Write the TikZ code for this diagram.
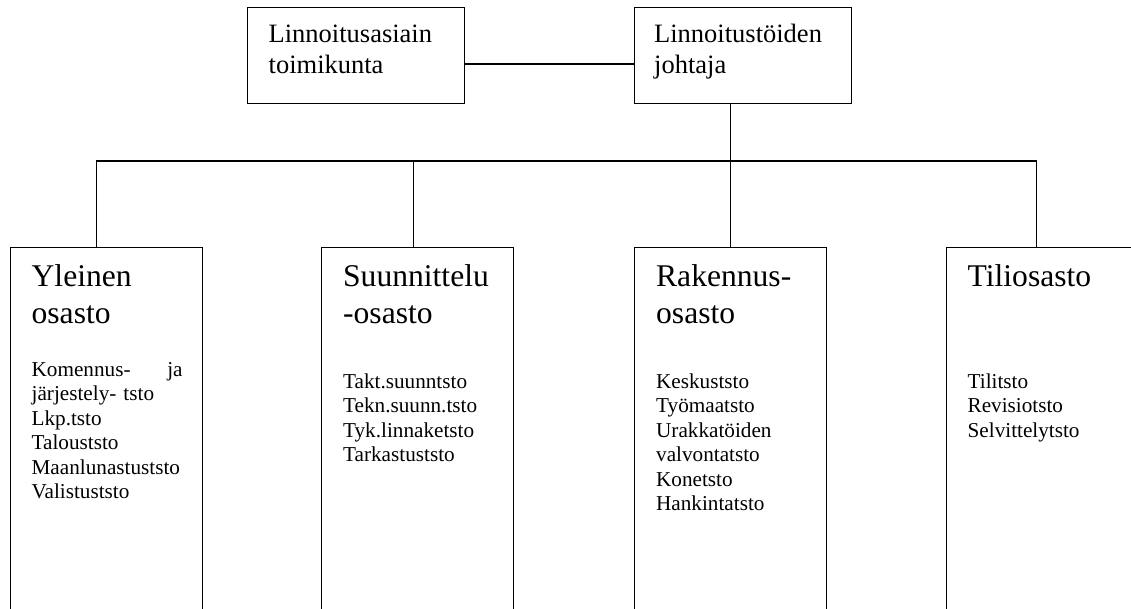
\documentclass[tikz,border=0pt]{standalone}
\usepackage{fontspec}
\setmainfont{Liberation Serif}
\usetikzlibrary{positioning}
\tikzset{
    box/.style = {
        draw,
        line width=1.3pt,
        inner sep=0pt,
        },
    top box/.style = {
        box,
        minimum width=217pt,
        minimum height=96pt,
        },
    dept/.style = {
        box,
        minimum width=192pt,
        minimum height=420pt,
        },
    head/.style = {
        anchor=base west,
        inner sep=0pt,
        text width=190pt,
        font=\fontsize{26.5}{30.5}\selectfont,
        },
    title/.style = {
        anchor=base west,
        inner sep=0pt,
        text width=170pt,
        font=\fontsize{31.6}{37}\selectfont,
        },
    units/.style = {
        anchor=base west,
        inner sep=0pt,
        text width=165pt,
        font=\fontsize{21.2}{24.5}\selectfont,
        },
}

\begin{document}
\begin{tikzpicture}[x=1pt, y=1pt, line width=1.3pt]
            \useasboundingbox (0,0) rectangle (1131,-609);
            \clip (0,0) rectangle (1131,-609);

            % top level
            \node[top box, anchor=north west] (lta) at (247,-7) {};
            \node[top box, right=168.7pt of lta] (ltj) {};
            \node[head] (lta-t) at ([xshift=21pt, yshift=-35.7pt]lta.north west) {Linnoitusasiain\\toimikunta};
            \node[head] (ltj-t) at ([xshift=19.5pt, yshift=-35.7pt]ltj.north west) {Linnoitustöiden\\johtaja};

            % departments
            \node[dept, anchor=north west] (yle) at (10,-247) {};
            \node[dept, right=117.7pt of yle] (suu) {};
            \node[dept, right=119.7pt of suu] (rak) {};
            \node[dept, right=118.7pt of rak] (til) {};

            \node[title] (yle-t) at ([xshift=21pt, yshift=-40pt]yle.north west) {Yleinen\\osasto};
            \node[title] (suu-t) at ([xshift=21.5pt, yshift=-40pt]suu.north west) {Suunnittelu\\-osasto};
            \node[title] (rak-t) at ([xshift=21.5pt, yshift=-40pt]rak.north west) {Rakennus-\\osasto};
            \node[title] (til-t) at ([xshift=21pt, yshift=-40pt]til.north west) {Tiliosasto};

            \node[units, text width=151pt] (yle-u) at ([xshift=21pt, yshift=-129pt]yle.north west)
                {Komennus-\hfill ja\\järjestely- tsto\\Lkp.tsto\\Talouststo\\Maanlunastuststo\\Valistuststo};
            \node[units] (suu-u) at ([xshift=21.5pt, yshift=-141pt]suu.north west)
                {Takt.suunntsto\\Tekn.suunn.tsto\\Tyk.linnaketsto\\Tarkastuststo};
            \node[units] (rak-u) at ([xshift=21.5pt, yshift=-141pt]rak.north west)
                {Keskuststo\\Työmaatsto\\Urakkatöiden\\valvontatsto\\Konetsto\\Hankintatsto};
            \node[units] (til-u) at ([xshift=21pt, yshift=-141pt]til.north west)
                {Tilitsto\\Revisiotsto\\Selvittelytsto};

            % connectors
            \coordinate (mid) at (0,-64);
            \coordinate (bus) at (0,-161);
            \coordinate (y1) at ([xshift=-10pt]yle.north);
            \coordinate (s1) at ([xshift=-4pt]suu.north);
            \coordinate (t1) at ([xshift=-6pt]til.north);

            \draw (lta.east |- mid) -- (ltj.west |- mid);
            \draw (rak.north) -- (rak.north |- ltj.south);
            \draw (y1) -- (y1 |- bus) -- (t1 |- bus) -- (t1);
            \draw (s1) -- (s1 |- bus);
        \end{tikzpicture}
\end{document}
